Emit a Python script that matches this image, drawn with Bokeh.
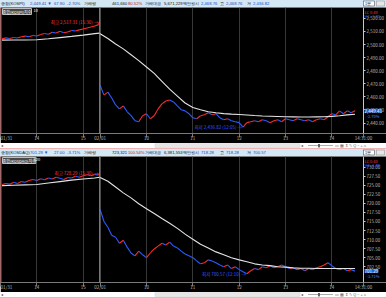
from bokeh.plotting import figure
from bokeh.models import (Range1d, FixedTicker, NumeralTickFormatter, Span, Label,
                          ColumnDataSource, Div)
from bokeh.layouts import column
from bokeh.core.properties import value
from bokeh.embed import file_html
from bokeh.resources import INLINE

FONT = "Noto Sans CJK KR"

# ---------------- data ----------------
DAY1_TIMES = ["13:15", "13:20", "13:25", "13:30", "13:35", "13:40", "13:45", "13:50", "13:55",
              "14:00", "14:05", "14:10", "14:15", "14:20", "14:25", "14:30", "14:35", "14:40",
              "14:45", "14:50", "14:55", "15:00", "15:05", "15:10", "15:15", "15:20", "15:30"]
DAY2_TIMES = [f"{9 + (i * 5) // 60:02d}:{(i * 5) % 60:02d}" for i in range(67)]   # 09:00 .. 14:30
MA_DAY1_TIMES = ["13:15", "13:30", "13:45", "14:00", "14:15", "14:30", "14:45", "15:00", "15:15", "15:30"]
MA_DAY2_TIMES = [f"{9 + (i * 10) // 60:02d}:{(i * 10) % 60:02d}" for i in range(34)]  # 09:00 .. 14:30

KOSPI_DAY1 = [2504.3, 2505.1, 2504.6, 2505.4, 2505.0, 2505.9, 2506.4, 2506.0, 2506.9, 2506.5,
              2507.6, 2508.4, 2507.9, 2509.3, 2508.8, 2510.1, 2509.0, 2509.6, 2510.8, 2510.3,
              2511.2, 2511.9, 2512.6, 2513.4, 2514.1, 2515.2, 2517.31]
KOSPI_DAY2 = [2468.76, 2461.3, 2463.6, 2459.1, 2453.8, 2450.8, 2453.1, 2448.6, 2445.6, 2441.8,
              2441.0, 2445.6, 2447.1, 2443.3, 2445.6, 2450.8, 2454.6, 2456.8, 2457.6, 2456.1,
              2453.1, 2450.1, 2449.3, 2447.1, 2444.0, 2443.3, 2445.6, 2446.3, 2447.8, 2446.3,
              2447.1, 2444.0, 2442.5, 2443.3, 2441.8, 2441.0, 2440.3, 2436.82, 2440.3, 2441.0,
              2441.8, 2441.0, 2442.5, 2441.8, 2440.3, 2441.8, 2442.5, 2441.0, 2443.3, 2442.5,
              2441.8, 2443.3, 2442.5, 2441.8, 2442.5, 2441.0, 2442.5, 2443.3, 2442.5, 2444.8,
              2447.1, 2446.3, 2449.3, 2447.1, 2449.3, 2447.8, 2449.41]
KOSPI_MA_DAY1 = [2503.4, 2503.5, 2503.5, 2503.6, 2504.4, 2505.3, 2506.2, 2507.2, 2508.3, 2508.7]
KOSPI_MA_DAY2 = [2508.3, 2504.6, 2500.4, 2496.7, 2492.2, 2487.7, 2482.8, 2477.9, 2471.9, 2465.9,
                 2460.6, 2455.3, 2451.9, 2450.1, 2448.6, 2447.8, 2447.2, 2446.8, 2446.5, 2446.1,
                 2445.7, 2445.4, 2445.2, 2445.0, 2444.8, 2444.7, 2444.6, 2444.6, 2444.7, 2444.8,
                 2445.1, 2445.6, 2446.2, 2446.7]

KOSDAQ_DAY1 = [725.2, 725.5, 725.3, 725.8, 725.5, 726.0, 725.8, 726.3, 726.6, 726.3,
               726.8, 726.5, 727.0, 726.7, 727.2, 726.9, 726.6, 727.1, 727.0, 727.5,
               727.2, 727.6, 727.9, 727.6, 728.0, 727.8, 728.29]
KOSDAQ_DAY2 = [718.28, 715.0, 713.4, 711.2, 710.65, 709.0, 709.8, 707.9, 706.3, 705.5,
               706.8, 705.8, 705.0, 706.3, 707.4, 708.2, 709.0, 708.5, 709.3, 708.2,
               707.7, 706.8, 706.0, 705.5, 705.0, 704.1, 703.3, 703.6, 704.4, 704.1,
               703.6, 703.0, 702.5, 703.0, 702.0, 702.5, 701.7, 701.1, 700.57, 701.4,
               702.0, 701.7, 702.5, 702.2, 702.8, 702.2, 702.5, 703.0, 702.5, 702.0,
               702.2, 701.7, 702.0, 701.4, 702.0, 701.7, 702.2, 702.5, 703.0, 703.6,
               702.8, 702.0, 701.7, 702.0, 701.4, 701.7, 701.29]
KOSDAQ_MA_DAY1 = [724.9, 725.0, 725.1, 725.2, 725.6, 726.0, 726.4, 726.7, 727.0, 727.2]
KOSDAQ_MA_DAY2 = [727.1, 726.1, 724.5, 722.9, 721.5, 719.9, 718.5, 717.2, 715.8, 714.5,
                  713.1, 711.5, 710.1, 708.7, 707.7, 706.6, 705.8, 705.0, 704.4, 703.9,
                  703.3, 703.0, 702.8, 702.5, 702.4, 702.2, 702.1, 702.1, 702.0, 702.0,
                  702.0, 702.0, 702.0, 702.0]

KOSPI_YTICKS = [2440, 2450, 2460, 2470, 2480, 2490, 2500, 2510, 2520]
KOSDAQ_YTICKS = [702.5, 705, 707.5, 710, 712.5, 715, 717.5, 720, 722.5, 725, 727.5, 730]

X_TICK_TIMES = [(1, "13:13"), (1, "14:00"), (1, "15:00"), (2, "09:00"), (2, "10:00"),
                (2, "11:00"), (2, "12:00"), (2, "13:00"), (2, "14:00")]
X_TICK_LABELS = ["01/31", "14", "15", "02/01", "10", "11", "12", "13", "14"]
LAST_TIME = "14:31:00"

KOSPI_INFO = dict(volume="461,660", vol_ratio="80.52%", amount="5,671,229백만원")
KOSDAQ_INFO = dict(volume="723,321", vol_ratio="100.54%", amount="6,381,553백만원")

# ---------------- time axis ----------------
def mins(t):
    h, m = t.split(":")
    return int(h) * 60 + int(m)

def u1(t):  # previous session (closing auction drawn right after 15:20)
    return min(mins(t), mins("15:21")) - mins("13:13")

def u2(t):  # current session
    return u1("15:30") + 1 + mins(t) - mins("09:00")

def u_of(day, t):
    return u1(t) if day == 1 else u2(t)

X_AXIS_U = u2("14:41")             # where the price scale sits
X_FULL = X_AXIS_U * 386 / 363      # frame spans the whole width, scale column included
SEP = (u1("15:30") + u2("09:00")) / 2
X_TICKS = [u_of(d, t) for d, t in X_TICK_TIMES]

UP, DOWN = "#ff2a2a", "#2b5cff"
HDR_BG = "#d3e7f5"
AX_COL = "#bdbdbd"


def segs(u, v):
    return dict(x0=u[:-1], x1=u[1:], y0=v[:-1], y1=v[1:],
                c=[UP if b >= a else DOWN for a, b in zip(v[:-1], v[1:])])


def chart(d1, d2, ma1, ma2, yticks, ylo, yhi, fmt, tab_text, tab_num, lc, hc):
    p = figure(width=386, height=136, x_range=Range1d(0, X_FULL), y_range=Range1d(ylo, yhi),
               toolbar_location=None, output_backend="svg", min_border=0,
               background_fill_color="black", border_fill_color="black",
               outline_line_color=None, y_axis_location="right")
    xa = p.xaxis[0]
    ticks = X_TICKS + [X_AXIS_U]
    xa.ticker = FixedTicker(ticks=ticks)
    xa.major_label_overrides = {t: l for t, l in zip(ticks, X_TICK_LABELS + [LAST_TIME])}
    xa.axis_line_color = "#7a7a7a"
    xa.major_tick_line_color = "#7a7a7a"
    xa.major_tick_out = 4
    xa.major_tick_in = 0
    xa.minor_tick_line_color = None
    xa.major_label_text_color = AX_COL
    xa.major_label_text_font = FONT
    xa.major_label_text_font_size = "4.5px"
    xa.major_label_text_align = "left"
    xa.major_label_standoff = -3

    ya = p.yaxis[0]
    ya.fixed_location = X_AXIS_U
    ya.ticker = FixedTicker(ticks=yticks)
    ya.formatter = NumeralTickFormatter(format=fmt)
    ya.axis_line_color = "#c8c8c8"
    ya.major_tick_line_color = "#c8c8c8"
    ya.major_tick_out = 2
    ya.major_tick_in = 0
    ya.minor_tick_line_color = None
    ya.major_label_text_color = AX_COL
    ya.major_label_text_font = FONT
    ya.major_label_text_font_size = "4.5px"
    ya.major_label_standoff = 1

    p.ygrid.visible = False
    p.xgrid.ticker = FixedTicker(ticks=X_TICKS)
    p.xgrid.grid_line_color = "#383838"

    p.add_layout(Span(location=SEP, dimension="height", line_color="#9a9a9a", line_width=1))
    p.add_layout(Span(location=0, dimension="height", line_color="#c65050", line_width=2))

    ud1 = [u1(t) for t in DAY1_TIMES]
    ud2 = [u2(t) for t in DAY2_TIMES]
    s1, s2 = segs(ud1, d1), segs(ud2, d2)
    src = ColumnDataSource({k: s1[k] + s2[k] for k in s1})
    p.segment("x0", "y0", "x1", "y1", color="c", line_width=1.1, source=src)

    mu = [u1(t) for t in MA_DAY1_TIMES] + [u2(t) for t in MA_DAY2_TIMES]
    p.line(mu, ma1 + ma2, color="#e4e4e4", line_width=1.1)

    allu, allv = ud1 + ud2, d1 + d2
    alltimes = DAY1_TIMES + DAY2_TIMES
    ih = max(range(len(allv)), key=lambda i: allv[i])
    il = min(range(len(allv)), key=lambda i: allv[i])
    p.text(x=[allu[ih]], y=[allv[ih]], text=[f"최고 {allv[ih]:,.2f} ({alltimes[ih]}) →"],
           text_font=value(FONT), text_font_size="4.5px", text_color="#ff3a3a",
           text_align="right", text_baseline="middle", x_offset=-1)
    p.text(x=[allu[il]], y=[allv[il]], text=[f"최저 {allv[il]:,.2f} ({alltimes[il]}) →"],
           text_font=value(FONT), text_font_size="4.5px", text_color="#3a5aff",
           text_align="right", text_baseline="middle", x_offset=-1)

    cur, prev = d2[-1], d1[-1]
    pct = (cur - prev) / prev * 100
    p.add_layout(Label(x=X_AXIS_U, y=cur, x_offset=1, text=f"{cur:,.2f}", text_font=FONT,
                       text_font_size="4.5px", text_color="white", text_baseline="middle",
                       background_fill_color="#1f62d6", level="overlay"))
    p.add_layout(Label(x=X_AXIS_U, y=cur, x_offset=3, y_offset=-5, text=f"{pct:.2f}%", text_font=FONT,
                       text_font_size="4px", text_color="#4b86ff", text_baseline="middle"))
    p.add_layout(Label(x=X_AXIS_U, y=yhi, x_offset=1, y_offset=-1, text=f"LC {lc}", text_font=FONT,
                       text_font_size="4px", text_color="#ff3030", text_baseline="top"))
    p.add_layout(Label(x=X_AXIS_U, y=yhi, x_offset=1, y_offset=-5, text=f"HC {hc}", text_font=FONT,
                       text_font_size="4px", text_color="#3a6cff", text_baseline="top"))
    p.add_layout(Label(x=0, y=yhi, x_offset=2, y_offset=-1, text=tab_text, text_font=FONT,
                       text_font_size="4px", text_color="white", text_baseline="top",
                       background_fill_color="#4a4a4a", border_line_color="#bdbdbd"))
    p.add_layout(Label(x=0, y=yhi, x_offset=33, y_offset=-1, text=tab_num, text_font=FONT,
                       text_font_size="4px", text_color="white", text_baseline="top"))
    return p


def svg_div(body, h, bg):
    svg = (f'<svg xmlns="http://www.w3.org/2000/svg" width="386" height="{h}" '
           f'style="display:block;position:absolute;left:0;top:0" font-family="{FONT}">'
           f'<rect x="0" y="0" width="386" height="{h}" fill="{bg}"/>{body}</svg>')
    return Div(text=svg, width=386, height=h, margin=0,
               styles={"font-size": "0px", "line-height": "0px", "overflow": "hidden",
                       "position": "relative", "background-color": bg})


def header(name, d1, d2, info):
    cur, prev = d2[-1], d1[-1]
    chg = cur - prev
    pct = chg / prev * 100
    blue, black = "#1848c8", "#111111"
    parts = [(1, name, black), (30, f"{cur:,.2f} ▼", blue), (54, f"{abs(chg):,.2f}", blue),
             (67, f"{pct:.2f}%", blue), (84, "거래량", black), (112, info["volume"], black),
             (128, info["vol_ratio"], "#c02020"), (145, "거래대금", black), (164, info["amount"], black),
             (195, "시", black), (201, f"{d2[0]:,.2f}", blue), (220, "고", black),
             (226, f"{max(d2):,.2f}", blue), (247, "저", black), (253, f"{min(d2):,.2f}", blue)]
    body = "".join(f'<text x="{x}" y="5.1" font-size="4.2" fill="{c}">{t}</text>' for x, t, c in parts)
    body += ('<rect x="363.5" y="1" width="11" height="5" fill="white" stroke="#555" stroke-width="0.6"/>'
             '<text x="365" y="4.8" font-size="3.8" fill="#111">1분</text>'
             '<rect x="376.5" y="1" width="8" height="5" fill="#e6e6e6" stroke="#999" stroke-width="0.6"/>')
    return svg_div(body, 7, HDR_BG)


def scrollbar():
    body = ('<rect x="155" y="0.8" width="145" height="3.6" fill="#e6e6e6" stroke="#d0d0d0" stroke-width="0.5"/>'
            '<text x="0.8" y="3.9" font-size="3.8" fill="#444">◂</text>'
            '<text x="301" y="3.9" font-size="3.8" fill="#444">◂</text>'
            '<rect x="308" y="2.3" width="25" height="0.7" fill="#888"/>'
            '<rect x="318" y="1" width="2" height="3.4" fill="#666"/>'
            '<text x="335" y="4" font-size="3.8" fill="#555">▭ ▦ ⇕ ✎ Q − + ⌂</text>'
            '<rect x="0" y="5.2" width="386" height="0.8" fill="#e8a4a4"/>')
    return svg_div(body, 6, "white")


top = chart(KOSPI_DAY1, KOSPI_DAY2, KOSPI_MA_DAY1, KOSPI_MA_DAY2, KOSPI_YTICKS,
            2432.0, 2528.3, "0,0.00", "종합(KOSPI)지수", "10", "0.40", "-3.70")
bot = chart(KOSDAQ_DAY1, KOSDAQ_DAY2, KOSDAQ_MA_DAY1, KOSDAQ_MA_DAY2, KOSDAQ_YTICKS,
            698.15, 732.93, "0,0.00", "종합(KOSDAQ)지수", "120", "0.40", "-1.70")

layout = column(header("종합(KOSPI)", KOSPI_DAY1, KOSPI_DAY2, KOSPI_INFO), top, scrollbar(),
                header("종합(KOSDAQ)", KOSDAQ_DAY1, KOSDAQ_DAY2, KOSDAQ_INFO), bot, scrollbar(),
                spacing=0)

open("out.html", "w").write(file_html(layout, INLINE))
